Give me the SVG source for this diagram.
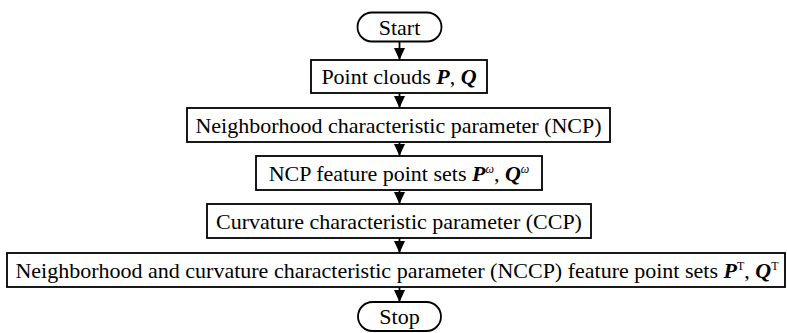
<svg xmlns="http://www.w3.org/2000/svg" width="787" height="333" viewBox="0 0 787 333">
<style>
.box{fill:#fff;stroke:#000;stroke-width:1.8}
.t{font-family:"Liberation Serif","Times New Roman",serif;font-size:22px;fill:#000;text-anchor:middle}
.bi{font-weight:bold;font-style:italic}
.sup{font-size:12px}
.conn{stroke:#000;stroke-width:1.8;fill:none}
</style>
<defs>
<marker id="ah" markerUnits="userSpaceOnUse" markerWidth="12" markerHeight="12" viewBox="0 0 12 12" refX="12" refY="6" orient="auto">
<path d="M0,0.5 L12,6 L0,11.5 Z" fill="#000"/>
</marker>
</defs>
<g id="connectors">
<line class="conn" x1="399.5" y1="41.5" x2="399.5" y2="60" marker-end="url(#ah)"/>
<line class="conn" x1="399.5" y1="93" x2="399.5" y2="108" marker-end="url(#ah)"/>
<line class="conn" x1="399.5" y1="142" x2="399.5" y2="156" marker-end="url(#ah)"/>
<line class="conn" x1="399.5" y1="190" x2="399.5" y2="204" marker-end="url(#ah)"/>
<line class="conn" x1="399.5" y1="238" x2="399.5" y2="253" marker-end="url(#ah)"/>
<line class="conn" x1="399.5" y1="287" x2="399.5" y2="302" marker-end="url(#ah)"/>
</g>
<g id="start">
<rect class="box" x="357.5" y="12.5" width="84" height="29" rx="14.5"/>
<text class="t" x="399.5" y="34.5">Start</text>
</g>
<g id="point-clouds">
<rect class="box" x="311" y="60" width="176" height="33"/>
<text class="t" x="399" y="84">Point clouds <tspan class="bi">P</tspan>, <tspan class="bi">Q</tspan></text>
</g>
<g id="ncp">
<rect class="box" x="187" y="108" width="423" height="34"/>
<text class="t" x="398.5" y="132.5">Neighborhood characteristic parameter (NCP)</text>
</g>
<g id="ncp-feature">
<rect class="box" x="256" y="156" width="286" height="34"/>
<text class="t" x="399" y="180.5">NCP feature point sets <tspan class="bi">P</tspan><tspan class="sup" font-style="italic" dy="-8">ω</tspan><tspan dy="8">, </tspan><tspan class="bi">Q</tspan><tspan class="sup" font-style="italic" dy="-8">ω</tspan></text>
</g>
<g id="ccp">
<rect class="box" x="207" y="204" width="384" height="34"/>
<text class="t" x="399" y="228.5">Curvature characteristic parameter (CCP)</text>
</g>
<g id="nccp">
<rect class="box" x="7" y="253" width="778" height="34"/>
<text class="t" x="397" y="277.5">Neighborhood and curvature characteristic parameter (NCCP) feature point sets <tspan class="bi">P</tspan><tspan class="sup" dy="-8">T</tspan><tspan dy="8">, </tspan><tspan class="bi">Q</tspan><tspan class="sup" dy="-8">T</tspan></text>
</g>
<g id="stop">
<rect class="box" x="358" y="302" width="83" height="29" rx="14.5"/>
<text class="t" x="399.5" y="324">Stop</text>
</g>
</svg>
